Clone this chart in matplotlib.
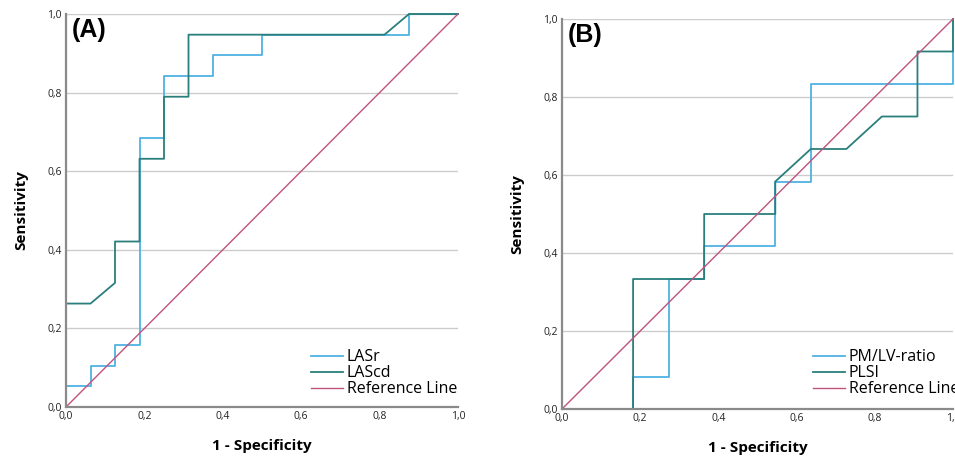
import matplotlib
matplotlib.use("Agg")
import matplotlib.pyplot as plt
from matplotlib.ticker import FuncFormatter

plt.rcParams['font.family'] = ['Open Sans', 'DejaVu Sans']

# Panel A data (1 - specificity, sensitivity)
lasr_x = [0, 0, 0.0625, 0.0625, 0.125, 0.125, 0.1875, 0.1875, 0.25, 0.25, 0.375, 0.375, 0.5, 0.5, 0.875, 0.875, 1.0]
lasr_y = [0, 0.0526, 0.0526, 0.1053, 0.1053, 0.1579, 0.1579, 0.6842, 0.6842, 0.8421, 0.8421, 0.8947, 0.8947, 0.9474, 0.9474, 1.0, 1.0]
lascd_x = [0, 0, 0.0625, 0.125, 0.125, 0.1875, 0.1875, 0.25, 0.25, 0.3125, 0.3125, 0.8125, 0.875, 1.0]
lascd_y = [0, 0.2632, 0.2632, 0.3158, 0.4211, 0.4211, 0.6316, 0.6316, 0.7895, 0.7895, 0.9474, 0.9474, 1.0, 1.0]

# Panel B data
pm_x = [0, 0.1818, 0.1818, 0.2727, 0.2727, 0.3636, 0.3636, 0.5455, 0.5455, 0.6364, 0.6364, 1.0, 1.0]
pm_y = [0, 0, 0.0833, 0.0833, 0.3333, 0.3333, 0.4167, 0.4167, 0.5833, 0.5833, 0.8333, 0.8333, 1.0]
plsi_x = [0, 0.1818, 0.1818, 0.3636, 0.3636, 0.5455, 0.5455, 0.6364, 0.7273, 0.8182, 0.9091, 0.9091, 1.0, 1.0]
plsi_y = [0, 0, 0.3333, 0.3333, 0.5, 0.5, 0.5833, 0.6667, 0.6667, 0.75, 0.75, 0.9167, 0.9167, 1.0]

ref_x = [0, 1]
ref_y = [0, 1]

ticks = [0.0, 0.2, 0.4, 0.6, 0.8, 1.0]

c_light = '#4db3e2'
c_dark = '#2a7f7c'
c_ref = '#c0527e'

fig = plt.figure(figsize=(9.55, 4.58), dpi=100)
axA = fig.add_axes([66/955, 1-407/458, (458-66)/955, (407-14)/458])
axB = fig.add_axes([562/955, 1-409/458, (953-562)/955, (409-19)/458])

fmt = FuncFormatter(lambda v, p: f"{v:.1f}".replace('.', ','))

def style(ax, label, series, legpos):
    ax.set_xlim(0, 1)
    ax.set_ylim(0, 1)
    ax.set_xticks(ticks)
    ax.set_yticks(ticks)
    ax.xaxis.set_major_formatter(fmt)
    ax.yaxis.set_major_formatter(fmt)
    ax.grid(axis='y', color='#cccccc', linewidth=1.0)
    ax.set_axisbelow(True)
    for s in ['top', 'right']:
        ax.spines[s].set_visible(False)
    for s in ['left', 'bottom']:
        ax.spines[s].set_color('#8a8a8a')
        ax.spines[s].set_linewidth(1.6)
    ax.tick_params(length=0, labelsize=7.5, colors='#222222', pad=3)
    ax.set_xlabel('1 - Specificity', fontsize=11, fontweight='bold', labelpad=12)
    ax.set_ylabel('Sensitivity', fontsize=11, fontweight='bold', labelpad=14)
    for (x, y, c, name) in series:
        ax.plot(x, y, color=c, linewidth=1.3, label=name, clip_on=False)
    ax.plot(ref_x, ref_y, color=c_ref, linewidth=1.0, label='Reference Line', clip_on=False)
    ax.text(0.015, 0.99, label, transform=ax.transAxes, fontsize=18, fontweight='bold',
            va='top', ha='left', family=['Liberation Sans', 'DejaVu Sans'])
    ax.legend(loc='lower left', bbox_to_anchor=legpos, frameon=False, fontsize=11.5,
              handlelength=2.0, handletextpad=0.25, labelspacing=0.0, borderpad=0,
              borderaxespad=0)

style(axA, '(A)', [(lasr_x, lasr_y, c_light, 'LASr'), (lascd_x, lascd_y, c_dark, 'LAScd')], (0.625, 0.025))
style(axB, '(B)', [(pm_x, pm_y, c_light, 'PM/LV-ratio'), (plsi_x, plsi_y, c_dark, 'PLSI')], (0.642, 0.03))

fig.savefig('out.png', dpi=100)
